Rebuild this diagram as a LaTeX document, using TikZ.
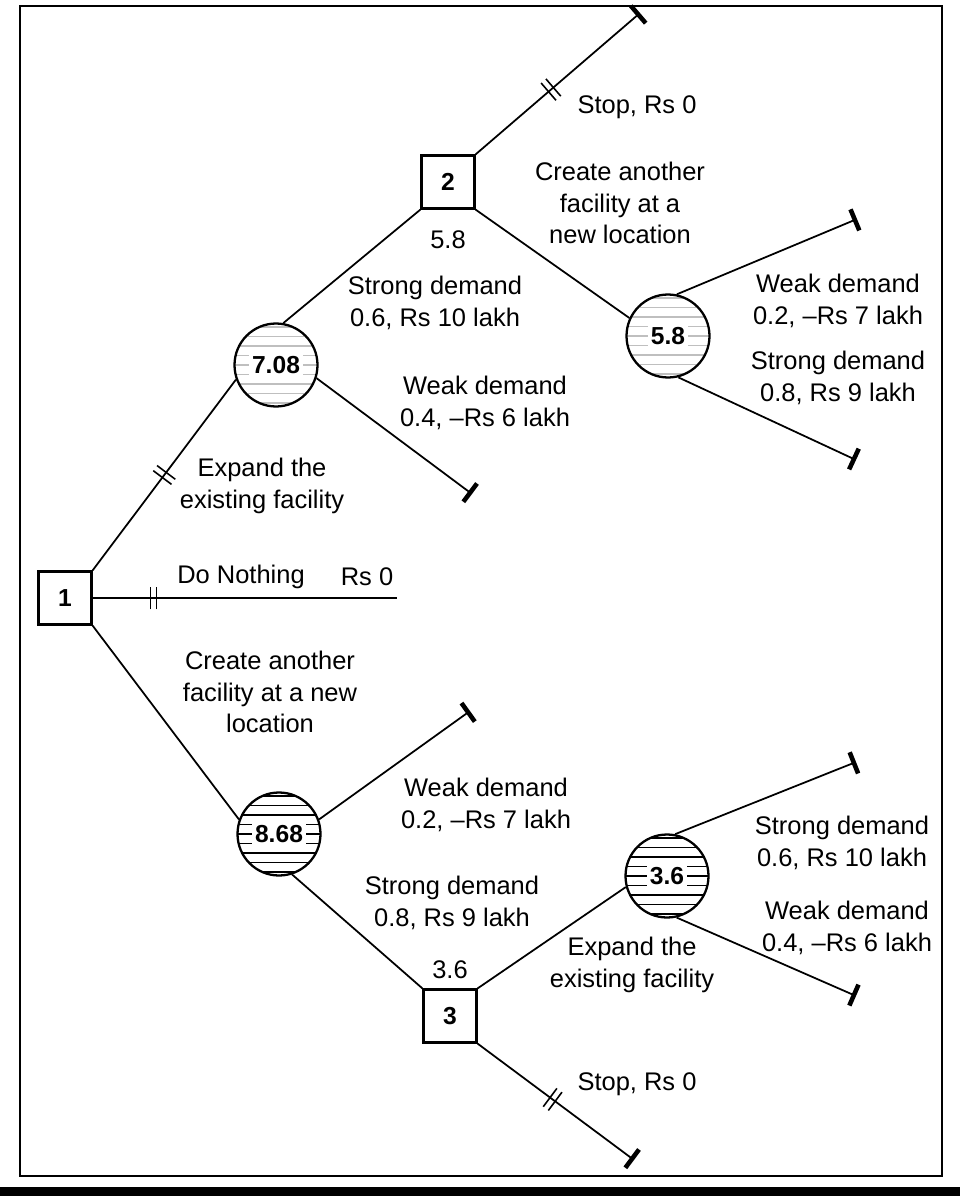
\documentclass[tikz,border=0pt]{standalone}
\usepackage{fontspec}
\setmainfont{Liberation Sans}
\usetikzlibrary{arrows.meta,decorations.markings}

\tikzset{
  lbl/.style={align=center, font=\fontsize{14.5}{18}\selectfont},
  decision/.style={draw, line width=1.3pt, minimum size=1.06cm, inner sep=0pt,
    font=\fontsize{14}{17}\selectfont\bfseries},
  chance/.style={circle, draw, line width=1.3pt, minimum size=1.66cm, inner sep=0pt,
    font=\fontsize{14}{17}\selectfont\bfseries,
    path picture={\foreach \k in {-4,...,4}
      \draw[#1, line width=0.7pt] ([yshift=\k*0.19cm]path picture bounding box.west)
        -- ([yshift=\k*0.19cm]path picture bounding box.east);}},
  chance/.default=black,
  branch/.style={line width=1pt},
  endtick/.style={-{Bar[width=13pt,line width=2.6pt]}},
  cut/.style={postaction={decorate}, decoration={markings,
    mark=at position #1 with {\draw[-, line width=0.9pt] (-1.8pt,-6.5pt) -- (-1.8pt,6.5pt) (1.8pt,-6.5pt) -- (1.8pt,6.5pt);}}},
}
\newcommand{\cval}[1]{{\setlength{\fboxsep}{1.5pt}\colorbox{white}{#1}}}

\begin{document}
\begin{tikzpicture}[x=0.02cm, y=-0.02cm, every node/.style={lbl}]
  \useasboundingbox (0,0) rectangle (960,1196);

  %% Frame of the figure
  \draw[line width=1.3pt] (20,6) rectangle (942,1176);
  \fill (0,1187) rectangle (960,1196);

  %% Decision and chance nodes
  \node[decision] (d1) at (65,598) {1};
  \node[decision] (d2) at (448,182) {2};
  \node[decision] (d3) at (450,1016) {3};
  \node[chance=black!25] (c708) at (276,365) {\cval{7.08}};
  \node[chance=black!25] (c58) at (668,336) {\cval{5.8}};
  \node[chance] (c868) at (279,834) {\cval{8.68}};
  \node[chance] (c36) at (667,876) {\cval{3.6}};

  % free ends of the branches
  \coordinate (stopA) at (640,13);
  \coordinate (wk1) at (472,494);
  \coordinate (dn) at (397,598);
  \coordinate (wk2) at (857,219);
  \coordinate (st2) at (856,460);
  \coordinate (wk3) at (470,711);
  \coordinate (st4) at (856,762);
  \coordinate (wk4) at (856,996);
  \coordinate (stopB) at (634,1160);

  %% Branches
  \draw[branch, cut=0.5] (d1.north east) -- (c708.200);
  \draw[branch, cut=0.2] (d1.east) -- (dn);
  \draw[branch] (d1.south east) -- (c868.160);
  \draw[branch] (c708.80) -- (d2.south west);
  \draw[branch, endtick] (c708.-18) -- (wk1);
  \draw[branch, endtick, cut=0.46] (d2.north east) -- (stopA);
  \draw[branch] (d2.south east) -- (c58.155);
  \draw[branch, endtick] (c58.78) -- (wk2);
  \draw[branch, endtick] (c58.-76) -- (st2);
  \draw[branch, endtick] (c868.20) -- (wk3);
  \draw[branch] (c868.-72) -- (d3.north west);
  \draw[branch] (d3.north east) -- (c36.195);
  \draw[branch, endtick] (c36.79) -- (st4);
  \draw[branch, endtick] (c36.-77) -- (wk4);
  \draw[branch, endtick, cut=0.48] (d3.south east) -- (stopB);

  %% Branch labels
  \node (tStopA) at (637,107) {Stop, Rs 0};
  \node (tCreateA) at (620,203) {Create another\\facility at a\\new location};
  \node (v2) at (448,240) {5.8};
  \node (tStr1) at (435,303) {Strong demand\\0.6, Rs 10 lakh};
  \node (tWk2) at (838,301) {Weak demand\\0.2, –Rs 7 lakh};
  \node (tStr2) at (838,378) {Strong demand\\0.8, Rs 9 lakh};
  \node (tWk1) at (485,403) {Weak demand\\0.4, –Rs 6 lakh};
  \node (tExpA) at (262,486) {Expand the\\existing facility};
  \node (tNothing) at (241,577) {Do Nothing};
  \node (tRs) at (367,577) {Rs 0};
  \node (tCreateB) at (270,692) {Create another\\facility at a new\\location};
  \node (tWk3) at (486,805) {Weak demand\\0.2, –Rs 7 lakh};
  \node (tStr3) at (452,903) {Strong demand\\0.8, Rs 9 lakh};
  \node (v3) at (450,970) {3.6};
  \node (tExpB) at (632,965) {Expand the\\existing facility};
  \node (tStr4) at (842,843) {Strong demand\\0.6, Rs 10 lakh};
  \node (tWk4) at (847,928) {Weak demand\\0.4, –Rs 6 lakh};
  \node (tStopB) at (637,1084) {Stop, Rs 0};

\end{tikzpicture}
\end{document}
